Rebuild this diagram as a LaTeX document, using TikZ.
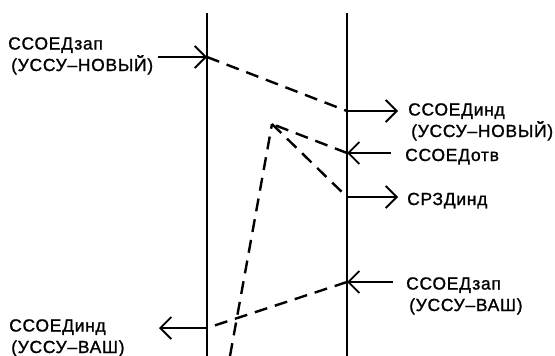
\documentclass[tikz,border=0pt]{standalone}
\usepackage{fontspec}
\setmainfont{Liberation Sans}[LetterSpace=4,FakeBold=1.2]
\usetikzlibrary{arrows.meta}

\tikzset{
	life/.style={line width=1.8pt},
	msg/.style={line width=1.8pt, -{Straight Barb[length=11pt,width=22pt,line width=1.8pt]}},
	link/.style={line width=2.4pt, dash pattern=on 13pt off 8pt},
	lbl/.style={anchor=base west, inner sep=0pt, align=left, font=\fontsize{17.5}{21.5}\selectfont}
}

\begin{document}
\begin{tikzpicture}[x=1pt,y=-1pt]
	    \useasboundingbox (0,0) rectangle (555,356);
	    % lifelines
	    \coordinate (Ltop) at (207,13);
	    \coordinate (Lbot) at (207,356);
	    \coordinate (Rtop) at (347,13);
	    \coordinate (Rbot) at (347,356);
	    \draw[life] (Ltop) -- (Lbot);
	    \draw[life] (Rtop) -- (Rbot);

	    % points on the lifelines
	    \coordinate (a) at (207,57);
	    \coordinate (b) at (347,111);
	    \coordinate (c) at (347,153);
	    \coordinate (d) at (347,197);
	    \coordinate (e) at (347,282);
	    \coordinate (f) at (207,328);
	    \coordinate (p) at (272,124);
	    \coordinate (q) at (230,356);

	    % free ends of the arrows
	    \coordinate (a0) at (158,57);
	    \coordinate (b1) at (398,111);
	    \coordinate (c0) at (391,153);
	    \coordinate (d1) at (398,197);
	    \coordinate (e0) at (393,282);
	    \coordinate (f1) at (159,328);

	    % labels (base = last line)
	    \node[lbl] (zapN) at (8,71) {ССОЕДзап\\ \hspace*{3pt}(УССУ–НОВЫЙ)};
	    \node[lbl] (indN) at (408,137) {ССОЕДинд\\ \hspace*{3pt}(УССУ–НОВЫЙ)};
	    \node[lbl] (otv) at (405,161) {ССОЕДотв};
	    \node[lbl] (rzd) at (407,205) {СРЗДинд};
	    \node[lbl] (zapV) at (406,311) {ССОЕДзап\\ \hspace*{3pt}(УССУ–ВАШ)};
	    \node[lbl] (indV) at (9,353) {ССОЕДинд\\ \hspace*{2pt}(УССУ–ВАШ)};

	    \draw[msg] (a0) -- (a);
	    \draw[msg] (b) -- (b1);
	    \draw[msg] (c0) -- (c);
	    \draw[msg] (d) -- (d1);
	    \draw[msg] (e0) -- (e);
	    \draw[msg] (f) -- (f1);

	    \draw[link] (a) -- (b);
	    \draw[link] (c) -- (p);
	    \draw[link] (p) -- (d);
	    \draw[link] (q) -- (p);
	    \draw[link] (e) -- (f);
	\end{tikzpicture}
\end{document}
